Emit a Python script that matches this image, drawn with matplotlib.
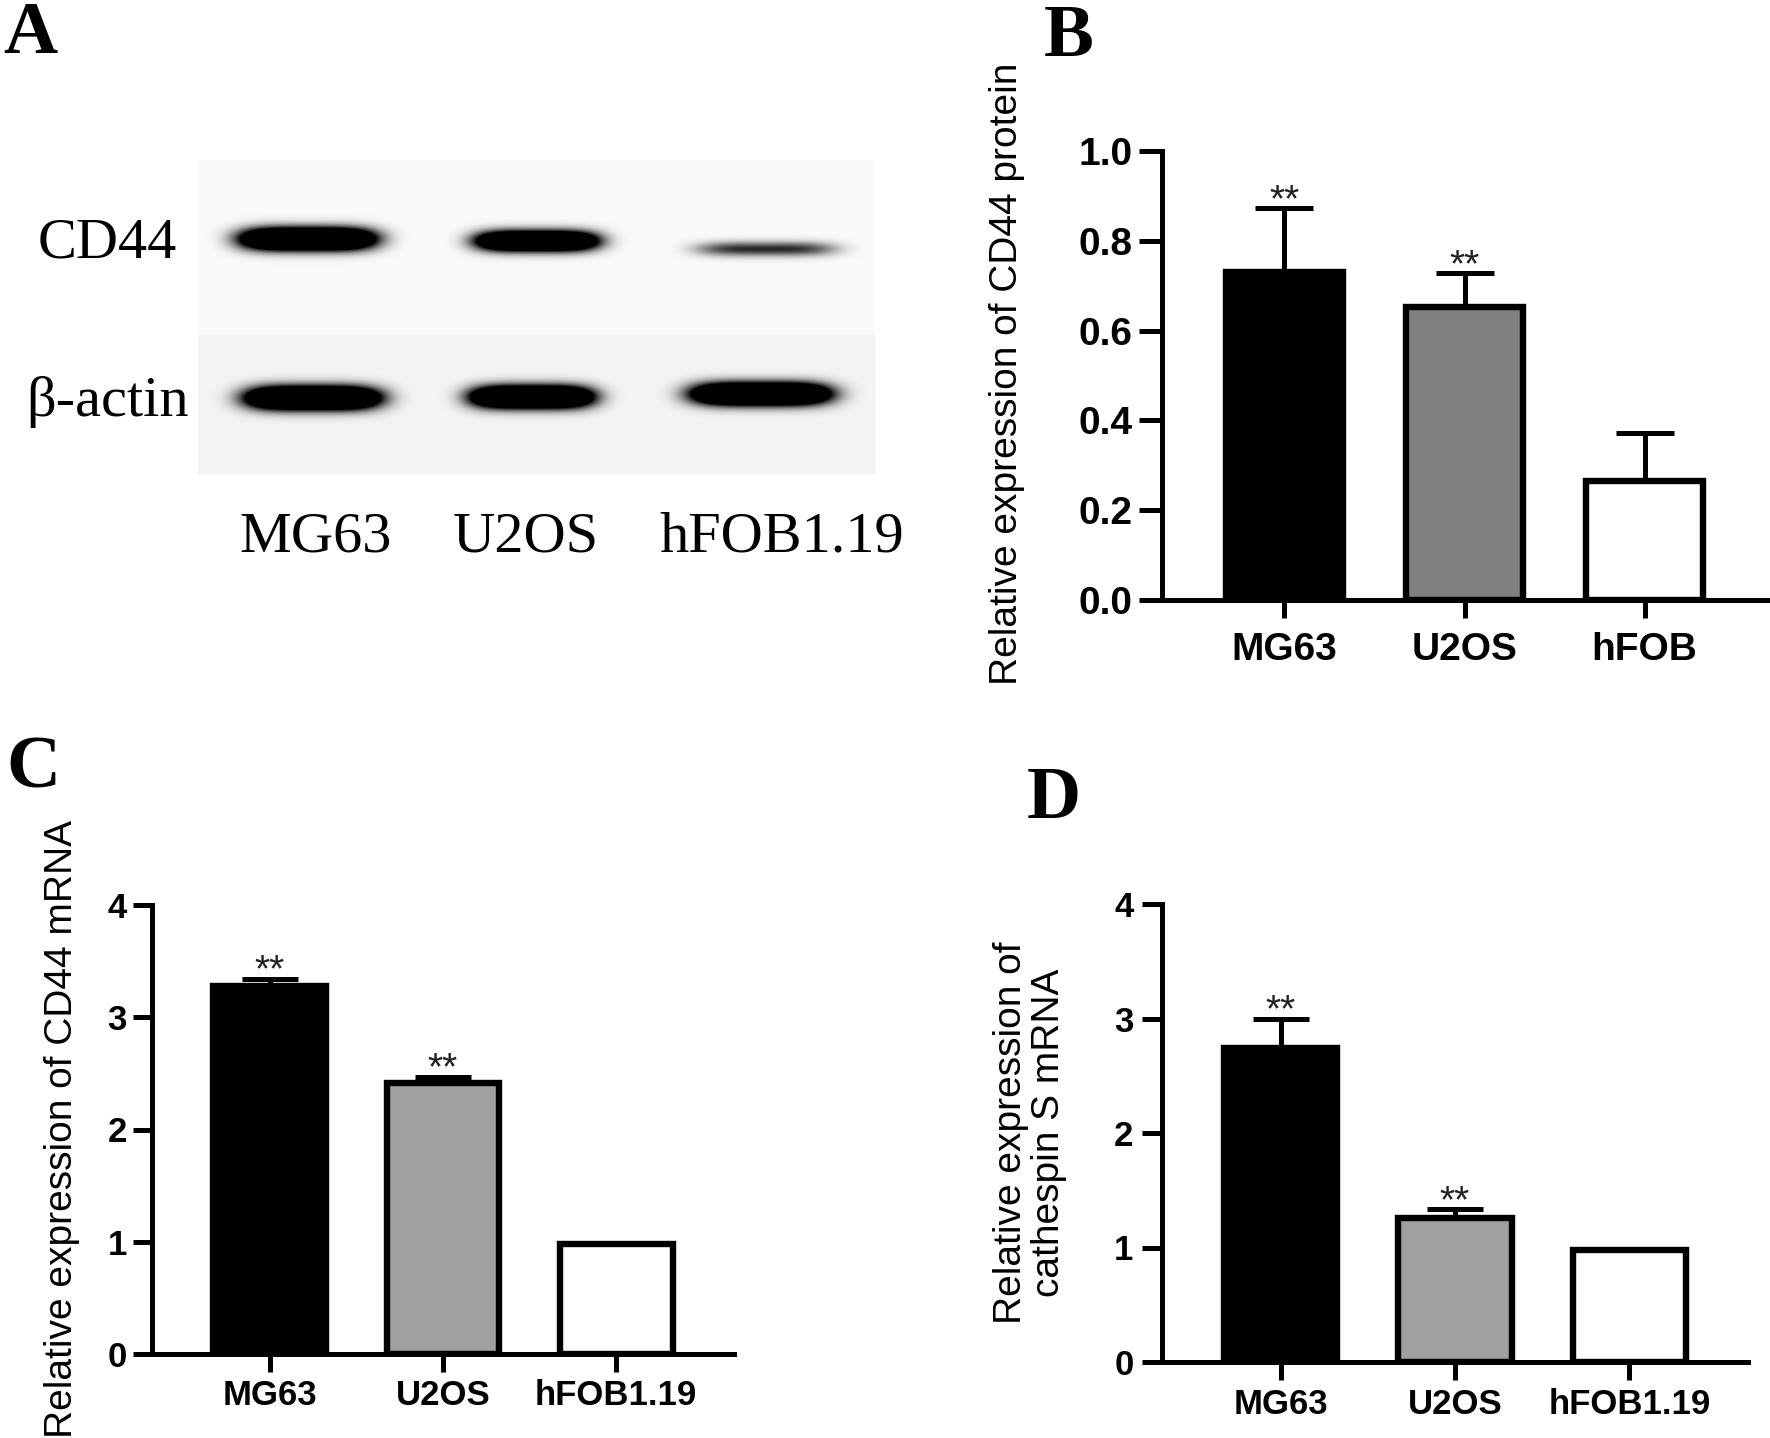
import numpy as np
import matplotlib
matplotlib.use("Agg")
import matplotlib.pyplot as plt
from matplotlib.ticker import FormatStrFormatter

plt.rcParams['font.family'] = ['Liberation Sans', 'DejaVu Sans']

# ---------------- data ----------------
blot_lanes = ["MG63", "U2OS", "hFOB1.19"]
blot_rows = ["CD44", "β-actin"]
cd44_band_density = [1.0, 0.92, 0.28]
actin_band_density = [1.0, 1.0, 1.0]

groups_B = ["MG63", "U2OS", "hFOB"]
protein_mean = [0.730, 0.653, 0.264]
protein_err = [0.142, 0.075, 0.109]
protein_sig = ["**", "**", ""]

groups_CD = ["MG63", "U2OS", "hFOB1.19"]
cd44_mrna_mean = [3.28, 2.41, 0.98]
cd44_mrna_err = [0.065, 0.06, 0.0]
cd44_mrna_sig = ["**", "**", ""]

ctss_mrna_mean = [2.74, 1.26, 0.98]
ctss_mrna_err = [0.26, 0.075, 0.0]
ctss_mrna_sig = ["**", "**", ""]

B_ticks = [0.0, 0.2, 0.4, 0.6, 0.8, 1.0]
CD_ticks = [0, 1, 2, 3, 4]

# ---------------- figure ----------------
W, H = 1770, 1438
fig = plt.figure(figsize=(W / 100, H / 100), dpi=100)
fig.patch.set_facecolor('white')


def fx(px):
    return px / W


def fy(py):
    return 1 - py / H


def rect(l, t, r, b):
    return [fx(l), fy(b), (r - l) / W, (b - t) / H]


# ---------------- panel A: western blot ----------------
axA = fig.add_axes([0, 0, 1, 1], zorder=-1)
axA.set_xlim(0, W)
axA.set_ylim(H, 0)
axA.axis('off')

bx0, bx1, by0, by1 = 198, 875, 160, 474
xs = np.arange(bx0, bx1) + 0.5
ys = np.arange(by0, by1) + 0.5
X, Y = np.meshgrid(xs, ys)
bg = np.where(Y < 335, 0.98, 0.955)

lane_cx_cd44 = [308, 537, 766]
lane_cx_actin = [313, 532, 761]
lane_hw = [66, 60, 68]
cd44_cy = [239, 241, 249]
cd44_wy = [10.5, 9.5, 7.0]
actin_cy = [398, 397, 394]
actin_wy = [11.0, 10.5, 10.5]

dark = np.zeros_like(X)
for i in range(3):
    d = cd44_band_density[i] * 3.0 * np.exp(-(np.abs(X - lane_cx_cd44[i]) / lane_hw[i]) ** 4) \
        * np.exp(-((Y - cd44_cy[i]) / cd44_wy[i]) ** 2)
    dark = np.maximum(dark, d)
    d = actin_band_density[i] * 3.0 * np.exp(-(np.abs(X - lane_cx_actin[i]) / lane_hw[i]) ** 4) \
        * np.exp(-((Y - actin_cy[i]) / actin_wy[i]) ** 2)
    dark = np.maximum(dark, d)
dark = np.clip(dark, 0, 1)
img = bg * (1 - dark)
axA.imshow(img, cmap='gray', vmin=0, vmax=1, extent=[bx0, bx1, by1, by0],
           aspect='auto', interpolation='bilinear')

serif = ['Liberation Serif', 'DejaVu Serif']
axA.text(38, 258, blot_rows[0], fontsize=42, family=serif, ha='left', va='baseline')
axA.text(26, 416, blot_rows[1], fontsize=42, family=serif, ha='left', va='baseline')
for name, cx in zip(blot_lanes, [316, 526, 782]):
    axA.text(cx, 552, name, fontsize=42, family=serif, ha='center', va='baseline')

# panel letters
for letter, (px, py) in zip("ABCD", [(3, 53), (1044, 56), (6, 788), (1027, 818)]):
    fig.text(fx(px), fy(py), letter, fontsize=54, family=serif, fontweight='bold',
             ha='left', va='baseline')


# ---------------- bar panels ----------------
def bar_panel(ax, cats, means, errs, sigs, colors, ymax, ticks, fmt,
              fs_tick, ylen, xpad, ypad, capsize):
    x = np.arange(len(cats))
    ax.bar(x, means, width=0.65, color=colors, edgecolor='black', linewidth=4.6, zorder=2)
    m = np.array(errs) > 0
    ax.errorbar(x[m], np.array(means)[m], yerr=[np.zeros(m.sum()), np.array(errs)[m]],
                fmt='none', ecolor='black', elinewidth=3.6, capsize=capsize,
                capthick=3.6, zorder=3)
    for xi, mu, e, s in zip(x, means, errs, sigs):
        if s:
            ax.annotate(s, (xi, mu + e), xytext=(0, -2), textcoords='offset points',
                        ha='center', va='baseline', fontsize=28, color='#222222')
    ax.set_xlim(-0.68, 2.68)
    ax.set_ylim(0, ymax)
    ax.set_yticks(ticks)
    ax.yaxis.set_major_formatter(FormatStrFormatter(fmt))
    ax.set_xticks(x)
    ax.set_xticklabels(cats)
    for sp in ['top', 'right']:
        ax.spines[sp].set_visible(False)
    for sp in ['left', 'bottom']:
        ax.spines[sp].set_linewidth(3.6)
        ax.spines[sp].set_capstyle('projecting')
    ax.tick_params(axis='y', length=ylen, width=3.6, labelsize=fs_tick, pad=ypad)
    ax.tick_params(axis='x', length=13, width=3.6, labelsize=fs_tick, pad=xpad)
    for lab in ax.get_xticklabels() + ax.get_yticklabels():
        lab.set_fontweight('bold')
    ax.patch.set_alpha(0)


axB = fig.add_axes(rect(1162, 151, 1767, 600))
bar_panel(axB, groups_B, protein_mean, protein_err, protein_sig,
          ['black', '#808080', 'white'], 1.0, B_ticks, '%.1f', 28, 16.5, 10, 5, 21)
fig.text(fx(1007), fy(374), "Relative expression of CD44 protein", rotation=90,
         fontsize=28, ha='center', va='center')

axC = fig.add_axes(rect(152, 905, 734, 1354))
bar_panel(axC, groups_CD, cd44_mrna_mean, cd44_mrna_err, cd44_mrna_sig,
          ['black', '#a0a0a0', 'white'], 4, CD_ticks, '%d', 25, 13.5, 5, 4.5, 20)
fig.text(fx(62), fy(1129), "Relative expression of CD44 mRNA", rotation=90,
         fontsize=28, ha='center', va='center')

axD = fig.add_axes(rect(1162, 904, 1748, 1362))
bar_panel(axD, groups_CD, ctss_mrna_mean, ctss_mrna_err, ctss_mrna_sig,
          ['black', '#a0a0a0', 'white'], 4, CD_ticks, '%d', 25, 14.5, 6, 6, 20)
fig.text(fx(1030), fy(1133), "Relative expression of\ncathespin S mRNA", rotation=90,
         fontsize=28, ha='center', va='center', linespacing=1.1)

fig.savefig("out.png", dpi=100, facecolor='white')
